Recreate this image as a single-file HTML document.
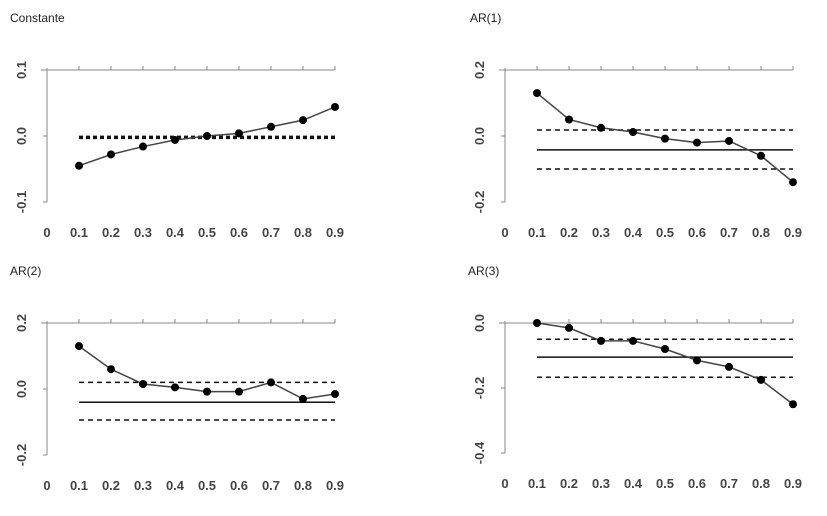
<!DOCTYPE html>
<html><head><meta charset="utf-8"><style>
body{margin:0;background:#fff;width:827px;height:511px;overflow:hidden}
svg{font-family:"Liberation Sans",sans-serif}
</style></head><body>
<svg id="c" width="827" height="511" xmlns="http://www.w3.org/2000/svg"></svg>
<script>
const categories=["0","0.1","0.2","0.3","0.4","0.5","0.6","0.7","0.8","0.9"];
const constanteValues=[-0.045,-0.028,-0.016,-0.006,0.000,0.004,0.014,0.024,0.044];
const constanteRefs=[-0.002];
const ar1Values=[0.13,0.05,0.025,0.012,-0.008,-0.02,-0.015,-0.06,-0.14];
const ar1Refs=[0.018,-0.042,-0.1];
const ar2Values=[0.13,0.06,0.015,0.005,-0.008,-0.008,0.02,-0.03,-0.015];
const ar2Refs=[0.02,-0.04,-0.094];
const ar3Values=[0,-0.015,-0.055,-0.055,-0.08,-0.115,-0.135,-0.175,-0.25];
const ar3Refs=[-0.05,-0.105,-0.167];
const constanteTicks=["0.1","0.0","-0.1"];
const ar1Ticks=["0.2","0.0","-0.2"];
const ar2Ticks=["0.2","0.0","-0.2"];
const ar3Ticks=["0.0","-0.2","-0.4"];

const svg=document.getElementById('c');
const NS="http://www.w3.org/2000/svg";
function mk(t,a,p){const e=document.createElementNS(NS,t);for(const k in a)e.setAttribute(k,a[k]);(p||svg).appendChild(e);return e;}

function panel(name,title,tx,ty,ax,top,ymax,ymin,h,values,refs,ticks,dotted){
  const g=mk('g',{});
  
  
  const t=mk('text',{x:tx,y:ty,'font-size':12,fill:'#222'},g);t.textContent=title;
  
  
  const step=32;
  const xS=i=>ax+i*step;
  const yS=v=>top+(ymax-v)/(ymax-ymin)*h;
  mk('line',{x1:ax,y1:top-2,x2:ax,y2:top+h,stroke:'#888','stroke-width':1},g);
  mk('line',{x1:ax-6,y1:top,x2:xS(9),y2:top,stroke:'#888','stroke-width':1},g);
  for(let i=1;i<=9;i++)mk('line',{x1:xS(i),y1:top-4,x2:xS(i),y2:top,stroke:'#888'},g);
  ticks.forEach((s,k)=>{const y=top+k*h/(ticks.length-1);
    mk('line',{x1:ax-4,y1:y,x2:ax,y2:y,stroke:'#888'},g);
    const l=mk('text',{x:0,y:0,'font-size':13,'font-weight':'bold','text-anchor':'middle',fill:'#444',transform:`translate(${ax-21},${y}) rotate(-90)`},g);l.textContent=s;
    
    });
  categories.forEach((c,i)=>{const l=mk('text',{x:xS(i),y:top+h+35,'font-size':13,'font-weight':'bold','text-anchor':'middle',fill:'#444'},g);l.textContent=c;
    
    });
  refs.forEach((r,k)=>{const solid=refs.length===3&&k===1;
    const ln=mk('line',{x1:xS(1),y1:yS(r),x2:xS(9),y2:yS(r),stroke:'#111','stroke-width':dotted?3.5:1.5,'stroke-dasharray':solid?'':(dotted?'4 3':'5 4')},g);
    
    });
  const pts=values.map((v,i)=>xS(i+1)+','+yS(v)).join(' ');
  const pl=mk('polyline',{points:pts,fill:'none',stroke:'#444','stroke-width':1.5},g);
  
  
  values.forEach((v,i)=>{const c=mk('circle',{cx:xS(i+1),cy:yS(v),r:4,fill:'#000'},g);
    
    });
}
panel('constante','Constante',10,22,47,70,0.1,-0.1,132,constanteValues,constanteRefs,constanteTicks,true);
panel('ar1','AR(1)',470,22,505,70,0.2,-0.2,132,ar1Values,ar1Refs,ar1Ticks,false);
panel('ar2','AR(2)',10,275,47,323,0.2,-0.2,132,ar2Values,ar2Refs,ar2Ticks,false);
panel('ar3','AR(3)',468,275,505,323,0.0,-0.4,130,ar3Values,ar3Refs,ar3Ticks,false);
</script>
</body></html>
